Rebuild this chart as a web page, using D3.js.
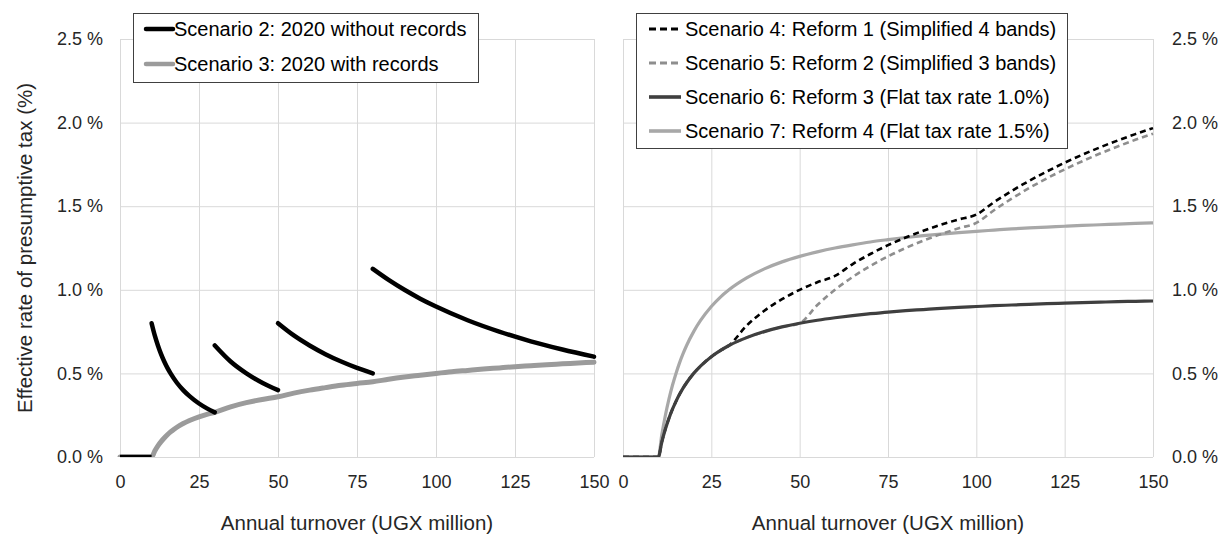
<!DOCTYPE html>
<html>
<head>
<meta charset="utf-8">
<script src="https://cdn.jsdelivr.net/npm/d3@7"></script>
<style>
  html, body { margin: 0; padding: 0; background: #fff; }
  svg { display: block; font-family: "Liberation Sans", Arial, sans-serif; }
</style>
</head>
<body>
<svg id="chart" width="1221" height="536"></svg>
<script>
// ---------------- DATA ----------------
const xTicks = [0, 25, 50, 75, 100, 125, 150];
const yTicks = [0, 0.5, 1.0, 1.5, 2.0, 2.5];

// Shared turnover grid (UGX million)
const turnover = [0, 10, 11, 12, 13, 14, 15, 16, 17, 18, 20, 22, 25, 27.5, 30,
  35, 40, 45, 50, 55, 60, 65, 70, 75, 80, 85, 90, 95, 100,
  105, 110, 115, 120, 125, 130, 135, 140, 145, 150];

// Scenario 2: 2020 without records (discontinuous segments)
const s2Turnover = [
  [0, 10],
  [10, 11, 12, 13, 14, 15, 16, 18, 20, 22, 25, 27.5, 30],
  [30, 35, 40, 45, 50],
  [50, 55, 60, 65, 70, 75, 80],
  [80, 85, 90, 95, 100, 110, 120, 130, 140, 150]
];
const s2Rate = [
  [0, 0],
  [0.8, 0.727, 0.667, 0.615, 0.571, 0.533, 0.5, 0.444, 0.4, 0.364, 0.32, 0.291, 0.267],
  [0.667, 0.571, 0.5, 0.444, 0.4],
  [0.8, 0.727, 0.667, 0.615, 0.571, 0.533, 0.5],
  [1.125, 1.059, 1.0, 0.947, 0.9, 0.818, 0.75, 0.692, 0.643, 0.6]
];

// Scenario 3: 2020 with records
const s3Rate = [0, 0, 0.036, 0.067, 0.092, 0.114, 0.133, 0.15, 0.165, 0.178,
  0.2, 0.218, 0.24, 0.255, 0.267, 0.3, 0.325, 0.344, 0.36,
  0.382, 0.4, 0.415, 0.429, 0.44, 0.45, 0.465, 0.478, 0.489, 0.5,
  0.51, 0.518, 0.526, 0.533, 0.54, 0.546, 0.552, 0.557, 0.562, 0.567];

// Scenario 4: Reform 1 (Simplified 4 bands)
const s4Rate = [0, 0, 0.091, 0.167, 0.231, 0.286, 0.333, 0.375, 0.412, 0.444,
  0.5, 0.545, 0.6, 0.636, 0.667, 0.786, 0.875, 0.944, 1.0,
  1.045, 1.083, 1.154, 1.214, 1.267, 1.313, 1.353, 1.389, 1.421, 1.45,
  1.524, 1.591, 1.652, 1.708, 1.76, 1.808, 1.852, 1.893, 1.931, 1.967];

// Scenario 5: Reform 2 (Simplified 3 bands)
const s5Rate = [0, 0, 0.091, 0.167, 0.231, 0.286, 0.333, 0.375, 0.412, 0.444,
  0.5, 0.545, 0.6, 0.636, 0.667, 0.714, 0.75, 0.778, 0.8,
  0.909, 1.0, 1.077, 1.143, 1.2, 1.25, 1.294, 1.333, 1.368, 1.4,
  1.476, 1.545, 1.609, 1.667, 1.72, 1.769, 1.815, 1.857, 1.897, 1.933];

// Scenario 6: Reform 3 (Flat tax rate 1.0%)
const s6Rate = [0, 0, 0.091, 0.167, 0.231, 0.286, 0.333, 0.375, 0.412, 0.444,
  0.5, 0.545, 0.6, 0.636, 0.667, 0.714, 0.75, 0.778, 0.8,
  0.818, 0.833, 0.846, 0.857, 0.867, 0.875, 0.882, 0.889, 0.895, 0.9,
  0.905, 0.909, 0.913, 0.917, 0.92, 0.923, 0.926, 0.929, 0.931, 0.933];

// Scenario 7: Reform 4 (Flat tax rate 1.5%)
const s7Rate = [0, 0, 0.136, 0.25, 0.346, 0.429, 0.5, 0.563, 0.618, 0.667,
  0.75, 0.818, 0.9, 0.955, 1.0, 1.071, 1.125, 1.167, 1.2,
  1.227, 1.25, 1.269, 1.286, 1.3, 1.313, 1.324, 1.333, 1.342, 1.35,
  1.357, 1.364, 1.37, 1.375, 1.38, 1.385, 1.389, 1.393, 1.397, 1.4];

const leftLegendLabels = ["Scenario 2: 2020 without records", "Scenario 3: 2020 with records"];
const rightLegendLabels = [
  "Scenario 4: Reform 1 (Simplified 4 bands)",
  "Scenario 5: Reform 2 (Simplified 3 bands)",
  "Scenario 6: Reform 3 (Flat tax rate 1.0%)",
  "Scenario 7: Reform 4 (Flat tax rate 1.5%)"
];
const xTitle = "Annual turnover (UGX million)";
const yTitle = "Effective rate of presumptive tax (%)";

// ---------------- LAYOUT ----------------
const svg = d3.select("#chart");
svg.append("rect").attr("width", 1221).attr("height", 536).attr("fill", "#fff");

const yTop = 39, yBot = 457;
const xL = d3.scaleLinear().domain([0, 150]).range([120, 594]);
const xR = d3.scaleLinear().domain([0, 150]).range([623, 1153]);
const y = d3.scaleLinear().domain([0, 2.5]).range([yBot, yTop]);

const gridColor = "#d9d9d9";
const textColor = "#262626";
const tickFont = 18;

svg.append("defs").append("clipPath").attr("id", "clip")
  .append("rect").attr("x", 0).attr("y", 0).attr("width", 1221).attr("height", yBot);

function styleAxis(g) {
  g.select(".domain").remove();
  g.selectAll(".tick line").attr("stroke", gridColor).attr("stroke-width", 1);
  g.selectAll(".tick text").attr("fill", textColor).attr("font-size", tickFont)
    .attr("font-family", "Liberation Sans, Arial, sans-serif");
}

const fmtY = d => d.toFixed(1) + " %";

// Left panel axes / grid
svg.append("g").attr("transform", `translate(0,${yBot})`)
  .call(d3.axisBottom(xL).tickValues(xTicks).tickSize(-(yBot - yTop)).tickPadding(18).tickFormat(d3.format("d")))
  .call(styleAxis);
svg.append("g").attr("transform", `translate(120,0)`)
  .call(d3.axisLeft(y).tickValues(yTicks).tickSize(-(594 - 120)).tickPadding(17).tickFormat(fmtY))
  .call(styleAxis);

// Right panel axes / grid
svg.append("g").attr("transform", `translate(0,${yBot})`)
  .call(d3.axisBottom(xR).tickValues(xTicks).tickSize(-(yBot - yTop)).tickPadding(18).tickFormat(d3.format("d")))
  .call(styleAxis);
svg.append("g").attr("transform", `translate(1153,0)`)
  .call(d3.axisRight(y).tickValues(yTicks).tickSize(-(1153 - 623)).tickPadding(19).tickFormat(fmtY))
  .call(styleAxis);

// Axis titles
svg.append("text").attr("x", (120 + 594) / 2).attr("y", 523).attr("dy", "0.35em")
  .attr("text-anchor", "middle").attr("font-size", 20.5).attr("fill", textColor).text(xTitle);
svg.append("text").attr("x", (623 + 1153) / 2).attr("y", 523).attr("dy", "0.35em")
  .attr("text-anchor", "middle").attr("font-size", 20.5).attr("fill", textColor).text(xTitle);
svg.append("text").attr("transform", `translate(25,${(yTop + yBot) / 2}) rotate(-90)`).attr("dy", "0.35em")
  .attr("text-anchor", "middle").attr("font-size", 20.5).attr("fill", textColor).text(yTitle);

// ---------------- LINES ----------------
const plotL = svg.append("g").attr("clip-path", "url(#clip)");
const plotR = svg.append("g").attr("clip-path", "url(#clip)");

function lineFor(xs) {
  return d3.line().x(d => xs(d[0])).y(d => y(d[1])).curve(d3.curveMonotoneX);
}
const zip = (a, b) => a.map((v, i) => [v, b[i]]);

// Scenario 3 (grey, thick)
plotL.append("path").datum(zip(turnover, s3Rate))
  .attr("d", lineFor(xL)).attr("fill", "none").attr("stroke", "#9b9b9b")
  .attr("stroke-width", 5).attr("stroke-linecap", "round");
// Scenario 2 (black segments)
s2Turnover.forEach((seg, i) => {
  plotL.append("path").datum(zip(seg, s2Rate[i]))
    .attr("d", lineFor(xL)).attr("fill", "none").attr("stroke", "#000")
    .attr("stroke-width", 4.5).attr("stroke-linecap", i === 0 ? "butt" : "round");
});

// Right panel
const rightSeries = [
  { rate: s7Rate, color: "#a8a8a8", width: 3.2, dash: null },
  { rate: s4Rate, color: "#000000", width: 2.6, dash: "6,4" },
  { rate: s5Rate, color: "#8e8e8e", width: 2.6, dash: "6,4" },
  { rate: s6Rate, color: "#3f3f3f", width: 3.2, dash: null }
];
rightSeries.forEach(s => {
  plotR.append("path").datum(zip(turnover, s.rate))
    .attr("d", lineFor(xR)).attr("fill", "none").attr("stroke", s.color)
    .attr("stroke-width", s.width).attr("stroke-dasharray", s.dash);
});

// ---------------- LEGENDS ----------------
// Left legend
const lgL = svg.append("g");
lgL.append("rect").attr("x", 133.5).attr("y", 13.5).attr("width", 345).attr("height", 69)
  .attr("fill", "#fff").attr("stroke", "#404040").attr("stroke-width", 1);
const leftLegendStyles = [{ color: "#000", width: 4.5 }, { color: "#9b9b9b", width: 4.5 }];
leftLegendLabels.forEach((lab, i) => {
  const cy = 29 + i * 35;
  lgL.append("line").attr("x1", 146).attr("x2", 173).attr("y1", cy).attr("y2", cy)
    .attr("stroke", leftLegendStyles[i].color).attr("stroke-width", leftLegendStyles[i].width)
    .attr("stroke-linecap", "round");
  lgL.append("text").attr("x", 174).attr("y", cy).attr("dy", "0.35em")
    .attr("font-size", 20).attr("fill", "#000").text(lab);
});

// Right legend
const lgR = svg.append("g");
lgR.append("rect").attr("x", 636.5).attr("y", 13.5).attr("width", 431).attr("height", 135)
  .attr("fill", "#fff").attr("stroke", "#404040").attr("stroke-width", 1);
const rightLegendStyles = [rightSeries[1], rightSeries[2], rightSeries[3], rightSeries[0]];
rightLegendLabels.forEach((lab, i) => {
  const cy = 29 + i * 34;
  const s = rightLegendStyles[i];
  lgR.append("line").attr("x1", 649).attr("x2", 681).attr("y1", cy).attr("y2", cy)
    .attr("stroke", s.color).attr("stroke-width", s.width + 0.4)
    .attr("stroke-dasharray", s.dash ? "7,4" : null);
  lgR.append("text").attr("x", 685).attr("y", cy).attr("dy", "0.35em")
    .attr("font-size", 20).attr("fill", "#000").text(lab);
});
</script>
</body>
</html>
